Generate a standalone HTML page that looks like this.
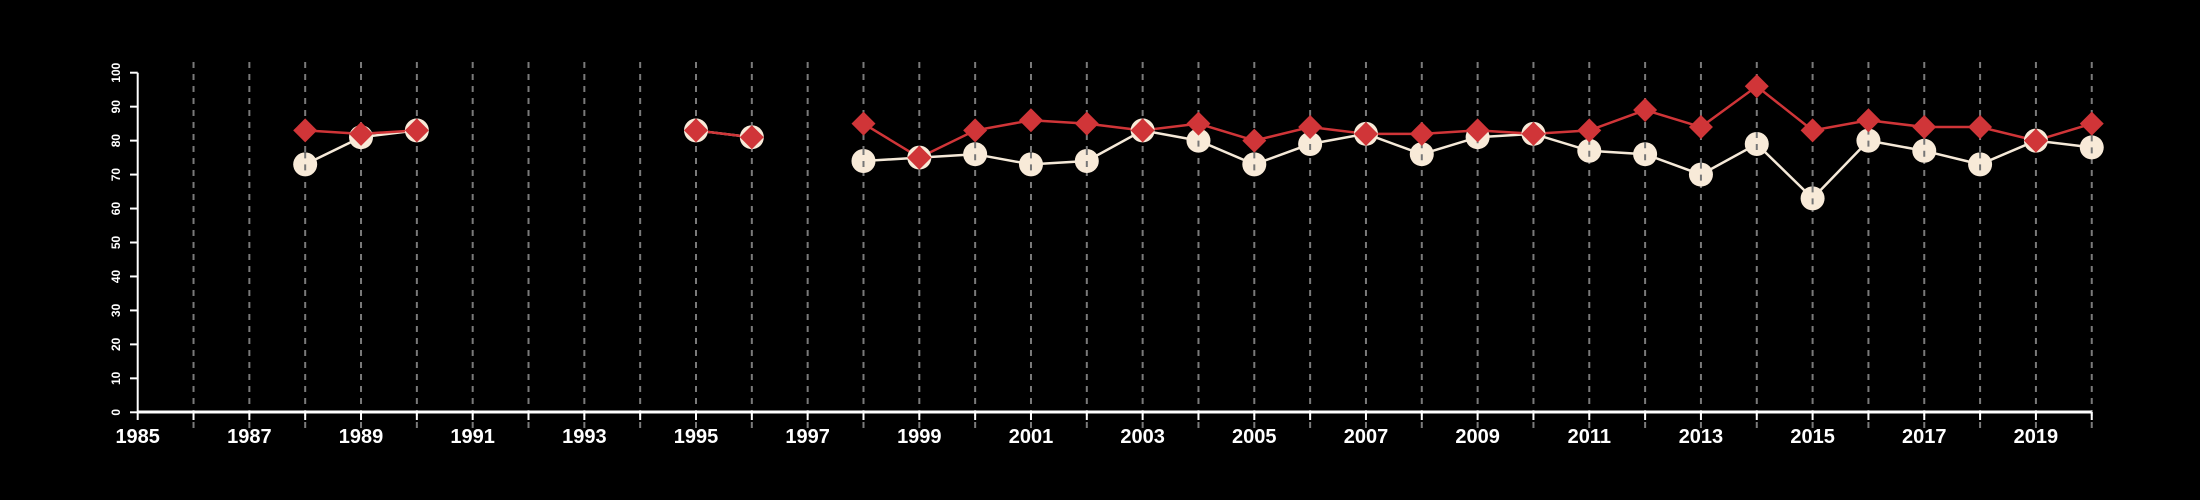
<!DOCTYPE html>
<html><head><meta charset="utf-8"><style>
html,body{margin:0;padding:0;background:#000;}
svg{display:block;}
text{font-family:"Liberation Sans",sans-serif;fill:#fff;}
</style></head><body>
<svg id="chart" width="2200" height="500" viewBox="0 0 2200 500" xmlns="http://www.w3.org/2000/svg">
<rect width="2200" height="500" fill="#000"/>
<g id="grid"></g><g id="axes"></g><g id="series"></g>
</svg>
<script>
const years = [1988,1989,1990,1991,1992,1993,1994,1995,1996,1997,1998,1999,2000,2001,2002,2003,2004,2005,2006,2007,2008,2009,2010,2011,2012,2013,2014,2015,2016,2017,2018,2019,2020];
const seriesWhite = [73,81,83,null,null,null,null,83,81,null,74,75,76,73,74,83,80,73,79,82,76,81,82,77,76,70,79,63,80,77,73,80,78];
const seriesRed = [83,82,83,null,null,null,null,83,81,null,85,75,83,86,85,83,85,80,84,82,82,83,82,83,89,84,96,83,86,84,84,80,85];
const yTicks = [0,10,20,30,40,50,60,70,80,90,100];
const xLabelYears = [1985,1987,1989,1991,1993,1995,1997,1999,2001,2003,2005,2007,2009,2011,2013,2015,2017,2019];
const NS="http://www.w3.org/2000/svg";
const X=y=>137.7+(y-1985)*55.83;
const Y=v=>412.3-v*3.396;
function mk(tag,attrs,parent){const e=document.createElementNS(NS,tag);for(const k in attrs)e.setAttribute(k,attrs[k]);parent.appendChild(e);return e;}
const grid=document.getElementById('grid'),axes=document.getElementById('axes'),ser=document.getElementById('series');
for(let y=1986;y<=2020;y++){
  const l=mk('line',{x1:X(y),x2:X(y),y1:62,y2:428,stroke:'#7a7a7a','stroke-width':2,'stroke-dasharray':'6,6'},grid);
  
  
}
let a=mk('line',{x1:X(1985),x2:X(2020),y1:412,y2:412,stroke:'#fff','stroke-width':3},axes);


a=mk('line',{x1:137.7,x2:137.7,y1:Y(0),y2:Y(100),stroke:'#fff','stroke-width':2},axes);


for(let y=1985;y<=2020;y++){
  const t=mk('line',{x1:X(y),x2:X(y),y1:412,y2:420,stroke:'#fff','stroke-width':2},axes);
  
  
}
xLabelYears.forEach(y=>{
  const t=mk('text',{x:X(y),y:443,'text-anchor':'middle','font-size':20,'font-weight':'bold'},axes);
  t.textContent=y;
  
  
});
yTicks.forEach(v=>{
  const t=mk('line',{x1:130,x2:137.7,y1:Y(v),y2:Y(v),stroke:'#fff','stroke-width':2},axes);
  
  
  const tx=mk('text',{x:0,y:0,'text-anchor':'middle','font-size':12,'font-weight':'bold',transform:`translate(120,${Y(v)}) rotate(-90)`},axes);
  tx.textContent=v;
  
  
});
function drawLine(vals,color,name){
  let d='',pen=false;
  vals.forEach((v,i)=>{if(v==null){pen=false;return;}d+=(pen?'L':'M')+X(years[i])+','+Y(v)+' ';pen=true;});
  const p=mk('path',{d:d,fill:'none',stroke:color,'stroke-width':2.5},ser);
  
  
}
drawLine(seriesWhite,'#f5e9d8','white-series-line');
drawLine(seriesRed,'#d03538','red-series-line');
seriesWhite.forEach((v,i)=>{if(v==null)return;
  const c=mk('circle',{cx:X(years[i]),cy:Y(v),r:12,fill:'#f8ead8'},ser);
  
  
  const g=mk('line',{x1:X(years[i]),x2:X(years[i]),y1:Y(v)-12,y2:Y(v)+12,stroke:'#777','stroke-width':2,'stroke-dasharray':'6,6'},ser);
  
  
});
seriesRed.forEach((v,i)=>{if(v==null)return;
  const x=X(years[i]),y=Y(v),s=12;
  const p=mk('polygon',{points:`${x},${y-s} ${x+s},${y} ${x},${y+s} ${x-s},${y}`,fill:'#d03538'},ser);
  
  
});
</script>
</body></html>
